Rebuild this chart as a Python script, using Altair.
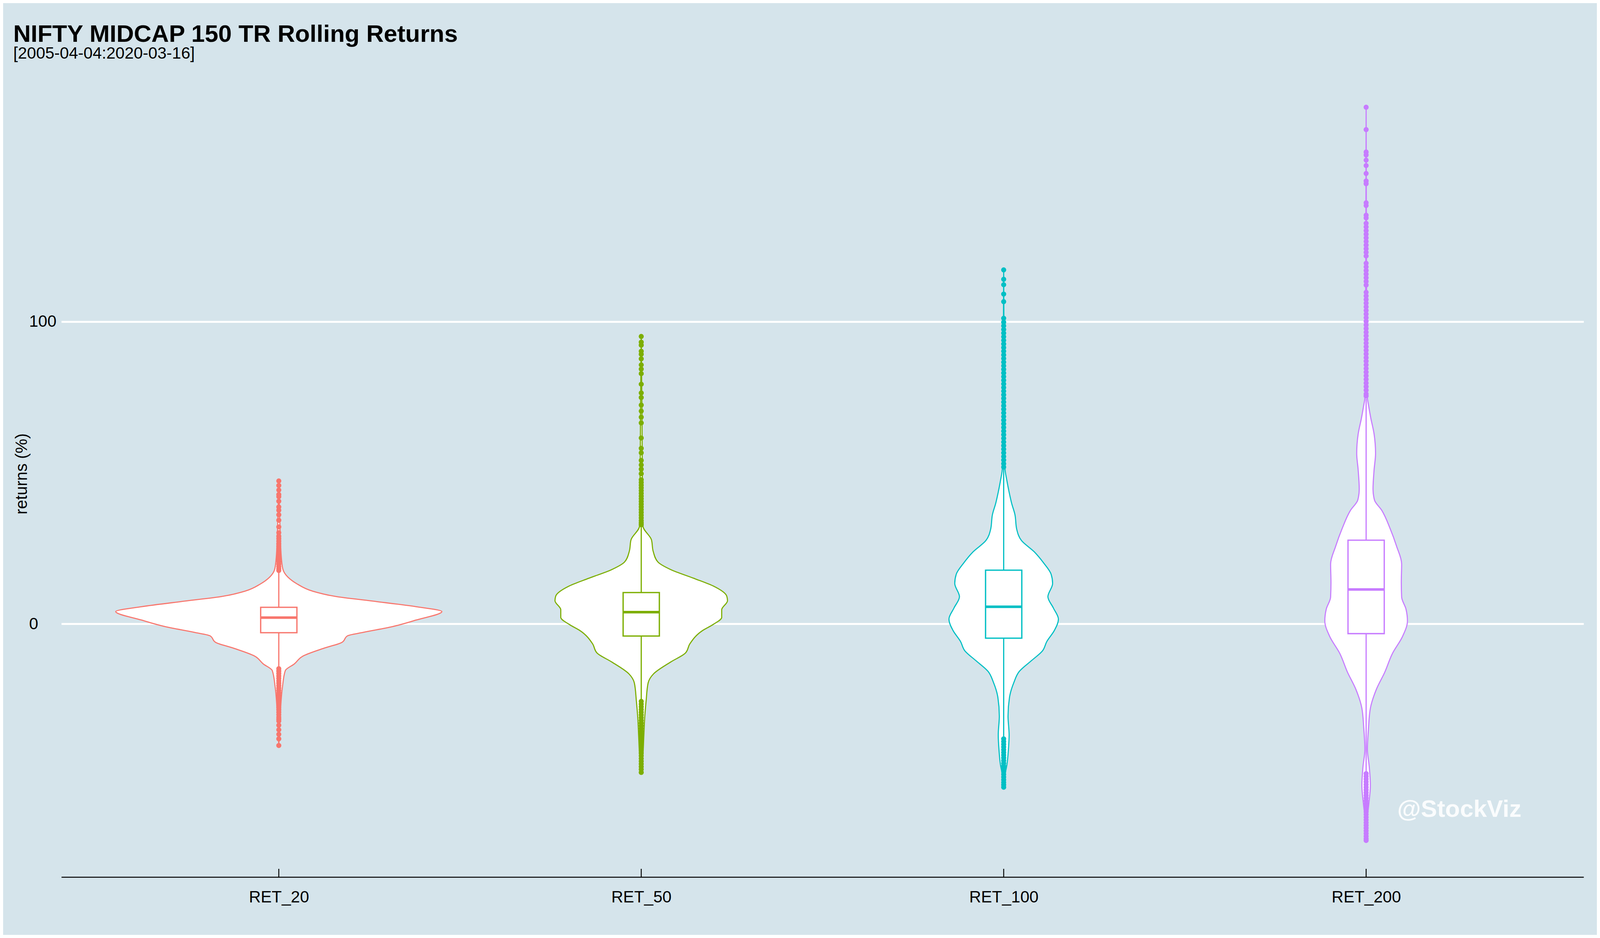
import altair as alt
import pandas as pd

# ---------------- data ----------------
cats = ["RET_20", "RET_50", "RET_100", "RET_200"]
colors = ["#F8766D", "#7CAE00", "#00BFC4", "#C77CFF"]

# box statistics: q1, median, q3, lower whisker end, upper whisker end
q1 = [-2.9, -4.0, -4.7, -3.2]
med = [2.1, 3.9, 5.7, 11.4]
q3 = [5.5, 10.4, 17.8, 27.7]
wlo = [-14.5, -25.3, -37.6, -49.0]
whi = [17.5, 32.5, 51.5, 74.5]

# violin profiles: value and half width (fraction of category spacing)
v20_val = [47.3, 30.0, 22.0, 18.0, 15.5, 13.2, 10.9, 9.1, 7.6, 5.7, 4.1, 1.3, -0.9, -2.8, -3.9, -6.1, -8.0, -10.6, -13.2, -15.4, -20.9, -30.0, -40.2]
v20_hw = [0.0, 0.004, 0.007, 0.0115, 0.025, 0.051, 0.092, 0.157, 0.256, 0.379, 0.45, 0.379, 0.313, 0.232, 0.19, 0.174, 0.125, 0.067, 0.043, 0.018, 0.01, 0.004, 0.0]

v50_val = [95.3, 70.0, 50.0, 32.4, 27.9, 24.0, 20.5, 18.0, 15.1, 12.6, 9.2, 7.7, 4.7, 2.2, -0.2, -2.2, -6.6, -9.6, -12.6, -16.5, -19.5, -25.4, -31.3, -37.3, -43.2, -49.1]
v50_hw = [0.0, 0.002, 0.003, 0.0047, 0.028, 0.033, 0.046, 0.081, 0.145, 0.198, 0.236, 0.238, 0.222, 0.222, 0.198, 0.169, 0.134, 0.122, 0.081, 0.034, 0.019, 0.0135, 0.0094, 0.007, 0.0047, 0.0]

v100_val = [117.1, 90.0, 70.0, 51.7, 47.3, 43.6, 39.9, 36.2, 31.3, 27.6, 23.9, 20.2, 16.4, 13.4, 9.0, 5.3, 1.6, -2.1, -5.8, -8.9, -12.0, -15.7, -19.4, -24.3, -30.5, -36.7, -41.6, -46.5, -50.3, -54.0]
v100_hw = [0.0, 0.001, 0.002, 0.0035, 0.009, 0.015, 0.022, 0.031, 0.036, 0.049, 0.084, 0.11, 0.131, 0.135, 0.122, 0.137, 0.151, 0.14, 0.119, 0.107, 0.078, 0.043, 0.028, 0.016, 0.012, 0.015, 0.013, 0.009, 0.003, 0.0]

v200_val = [170.9, 120.0, 90.0, 75.4, 71.8, 68.2, 62.8, 56.4, 51.0, 44.6, 41.0, 37.6, 31.6, 25.7, 19.8, 13.8, 8.9, 4.9, 1.0, -4.0, -9.9, -15.8, -21.7, -27.7, -34.6, -41.5, -47.4, -53.4, -59.3, -64.2, -71.6]
v200_hw = [0.0, 0.001, 0.002, 0.003, 0.0074, 0.0127, 0.022, 0.026, 0.022, 0.019, 0.023, 0.043, 0.066, 0.084, 0.098, 0.097, 0.098, 0.110, 0.114, 0.101, 0.072, 0.052, 0.028, 0.012, 0.0064, 0.0035, 0.0088, 0.0117, 0.0076, 0.003, 0.0]

# outliers
o20 = [47.3, 45.8, 44.3, 42.8, 42.1, 40.6, 38.7, 37.6, 36.1, 34.3, 32.1, 30.2, 29.0, 28.2, 27.4, 26.5, 25.7, 24.8, 24.0, 23.1, 22.3, 21.4, 20.6, 19.8, 19.0, 18.3, 17.7,
       -14.8, -15.6, -16.4, -17.2, -18.0, -18.8, -19.6, -20.4, -21.2, -22.0, -22.8, -23.6, -24.4, -25.2, -26.0, -26.8, -27.6, -28.4, -29.2, -30.0, -30.8, -31.5, -32.1, -33.5, -35.0, -36.5, -38.0, -40.2]
o50 = [95.1, 93.2, 92.2, 90.2, 89.2, 87.7, 85.7, 84.3, 82.8, 79.3, 76.4, 74.9, 72.4, 70.4, 68.4, 66.5, 61.5, 58.1, 56.6, 54.1, 52.6, 51.2, 49.7, 47.7, 46.8, 45.9, 45.0, 44.1, 43.2, 42.3, 41.4, 40.5, 39.6, 38.7, 37.8, 36.9, 36.0, 35.1, 34.2, 33.4, 32.8,
       -25.6, -26.5, -27.4, -28.3, -29.2, -30.1, -31.0, -31.9, -32.8, -33.7, -34.6, -35.5, -36.4, -37.3, -38.2, -39.1, -40.0, -40.9, -41.8, -42.7, -43.6, -44.5, -45.4, -46.3, -47.2, -48.1, -49.1]
o100 = [117.1, 114.0, 112.2, 109.1, 106.6, 101.1, 99.8, 98.6, 97.4, 96.2, 95.0, 93.8, 92.6, 91.4, 90.2, 89.0, 87.8, 86.6, 85.4, 84.2, 83.0, 81.8, 80.6, 79.4, 78.2, 77.0, 75.8, 74.6, 73.4, 72.2, 71.0, 69.8, 68.6, 67.4, 66.2, 65.0, 63.8, 62.6, 61.4, 60.2, 59.0, 57.8, 56.6, 55.4, 54.2, 53.0, 51.9,
        -38.0, -38.9, -39.8, -40.7, -41.6, -42.5, -43.4, -44.3, -45.2, -46.1, -47.0, -47.9, -48.8, -49.7, -50.6, -51.5, -52.4, -53.2, -54.0]
o200 = [170.9, 163.5, 156.1, 155.1, 153.4, 151.6, 149.0, 146.5, 145.6, 139.3, 138.4, 135.2, 134.3, 132.5, 131.3, 130.1, 128.9, 127.7, 126.5, 125.3, 124.1, 122.9, 121.7, 119.3, 118.1, 116.9, 115.7, 114.5, 113.3, 112.1, 109.7, 108.5, 107.3, 106.1, 104.9, 103.7, 102.5, 101.3, 100.1, 98.9, 97.7, 96.5, 95.3, 94.1, 92.9, 91.7, 90.5, 89.3, 88.1, 86.9, 85.7, 84.5, 83.3, 82.1, 80.9, 79.7, 78.5, 77.3, 76.1, 75.4,
        -49.5, -50.4, -51.3, -52.2, -53.1, -54.0, -54.9, -55.8, -56.7, -57.6, -58.5, -59.4, -60.3, -61.2, -62.1, -63.0, -63.9, -64.8, -65.7, -66.6, -67.5, -68.4, -69.3, -70.2, -71.0, -71.6]

title_text = "NIFTY MIDCAP 150 TR Rolling Returns"
subtitle_text = "[2005-04-04:2020-03-16]"
y_title = "returns (%)"
y_ticks = [0, 100]
watermark = "@StockViz"
wm_x, wm_y = 3.086, -63.8

# ---------------- tables ----------------
viol_vals = [v20_val, v50_val, v100_val, v200_val]
viol_hws = [v20_hw, v50_hw, v100_hw, v200_hw]
outs = [o20, o50, o100, o200]

vrows, orows, brows, wrows = [], [], [], []
for i, c in enumerate(cats):
    for v, h in zip(viol_vals[i], viol_hws[i]):
        vrows.append({"cat": c, "idx": i, "val": v, "hw": h})
    for v in outs[i]:
        orows.append({"cat": c, "idx": i, "val": v})
    brows.append({"cat": c, "idx": i, "q1": q1[i], "med": med[i], "q3": q3[i]})
    wrows.append({"cat": c, "idx": i, "a": q3[i], "b": whi[i]})
    wrows.append({"cat": c, "idx": i, "a": wlo[i], "b": q1[i]})

vdf = pd.DataFrame(vrows).sort_values(["idx", "val"]).reset_index(drop=True)
odf = pd.DataFrame(orows)
bdf = pd.DataFrame(brows)
wdf = pd.DataFrame(wrows)
tdf = pd.DataFrame({"idx": list(range(len(cats)))})
wmdf = pd.DataFrame({"x": [wm_x], "y": [wm_y], "t": [watermark]})

# plot area (the page is laid out for a 4096 px wide viewport)
W, H = 3897, 2064
PAD = {"left": 149, "top": 172, "right": 34, "bottom": 148}
BOX_HALF = 0.05
FONT = "Liberation Sans"

xscale = alt.Scale(domain=[-0.6, len(cats) - 0.4], nice=False, zero=False)
yscale = alt.Scale(domain=[-83.7, 183.1], nice=False, zero=False)
cscale = alt.Scale(domain=cats, range=colors)

label_expr = "[" + ",".join("'" + c + "'" for c in cats) + "][datum.value]"

xaxis = alt.Axis(values=list(range(len(cats))), labelExpr=label_expr, title=None,
                 grid=False, ticks=False, tickSize=0, domain=True, domainColor="black",
                 domainWidth=2.6, labelFontSize=42, labelColor="black", labelLimit=0,
                 labelFont=FONT, labelPadding=64, labelBaseline="alphabetic")
yaxis = alt.Axis(values=y_ticks, title=y_title, grid=True, gridColor="white", gridWidth=5,
                 ticks=False, tickSize=0, domain=False, labelAlign="left", labelBaseline="middle",
                 labelPadding=83, labelFontSize=42, labelColor="black", labelFont=FONT,
                 titleFontSize=42, titleFontWeight="normal", titleFont=FONT,
                 titleColor="black", titleAngle=270, titleX=-89, titleY=H / 2,
                 titleAlign="center", titleBaseline="alphabetic")

# one violin per category so each area path is its own closed shape
violins = []
for i, c in enumerate(cats):
    if i == 0:
        ych = alt.Y("val:Q", scale=yscale, axis=yaxis)
        xch = alt.X("x_lo:Q", scale=xscale, axis=xaxis)
    else:
        ych = alt.Y("val:Q", scale=yscale)
        xch = alt.X("x_lo:Q", scale=xscale)
    violins.append(
        alt.Chart(vdf[vdf["cat"] == c]).transform_calculate(
            x_lo="datum.idx - datum.hw", x_hi="datum.idx + datum.hw"
        ).mark_area(orient="horizontal", interpolate="monotone", fill="white",
                    fillOpacity=1, strokeWidth=2.8, stroke=colors[i]).encode(
            y=ych, x=xch, x2="x_hi:Q")
    )

points = alt.Chart(odf).mark_circle(size=170, opacity=1).encode(
    x=alt.X("idx:Q", scale=xscale),
    y=alt.Y("val:Q", scale=yscale),
    color=alt.Color("cat:N", scale=cscale, legend=None),
)

whiskers = alt.Chart(wdf).mark_rule(strokeWidth=3).encode(
    x=alt.X("idx:Q", scale=xscale),
    y=alt.Y("a:Q", scale=yscale),
    y2="b:Q",
    color=alt.Color("cat:N", scale=cscale, legend=None),
)

boxes = alt.Chart(bdf).transform_calculate(
    bl=f"datum.idx - {BOX_HALF}", br=f"datum.idx + {BOX_HALF}"
).mark_rect(fill="white", strokeWidth=3.3).encode(
    x=alt.X("bl:Q", scale=xscale),
    x2="br:Q",
    y=alt.Y("q1:Q", scale=yscale),
    y2="q3:Q",
    stroke=alt.Stroke("cat:N", scale=cscale, legend=None),
)

medians = alt.Chart(bdf).transform_calculate(
    bl=f"datum.idx - {BOX_HALF}", br=f"datum.idx + {BOX_HALF}"
).mark_rule(strokeWidth=6.5).encode(
    x=alt.X("bl:Q", scale=xscale),
    x2="br:Q",
    y=alt.Y("med:Q", scale=yscale),
    color=alt.Color("cat:N", scale=cscale, legend=None),
)

# inward tick marks on the category axis
ticks = alt.Chart(tdf).mark_rule(color="black", strokeWidth=2.4).encode(
    x=alt.X("idx:Q", scale=xscale),
    y=alt.value(H),
    y2=alt.value(H - 21),
)

wm = alt.Chart(wmdf).mark_text(align="left", baseline="alphabetic", fontSize=62,
                               fontWeight="bold", font=FONT,
                               color="white", opacity=0.9).encode(
    x=alt.X("x:Q", scale=xscale),
    y=alt.Y("y:Q", scale=yscale),
    text="t:N",
)

chart = alt.layer(*violins, points, whiskers, boxes, medians, ticks, wm).properties(
    width=W, height=H,
    title=alt.TitleParams(text=title_text, subtitle=subtitle_text, anchor="start",
                          fontSize=62, fontWeight="bold", font=FONT, color="black",
                          subtitleFontSize=42, subtitleFont=FONT,
                          subtitleColor="black", subtitlePadding=-3, offset=21),
    padding=PAD,
    autosize=alt.AutoSizeParams(type="none"),
).configure(background="#d5e4eb").configure_view(stroke=None)

chart.save("out.html", embed_options={"renderer": "svg", "actions": False})
